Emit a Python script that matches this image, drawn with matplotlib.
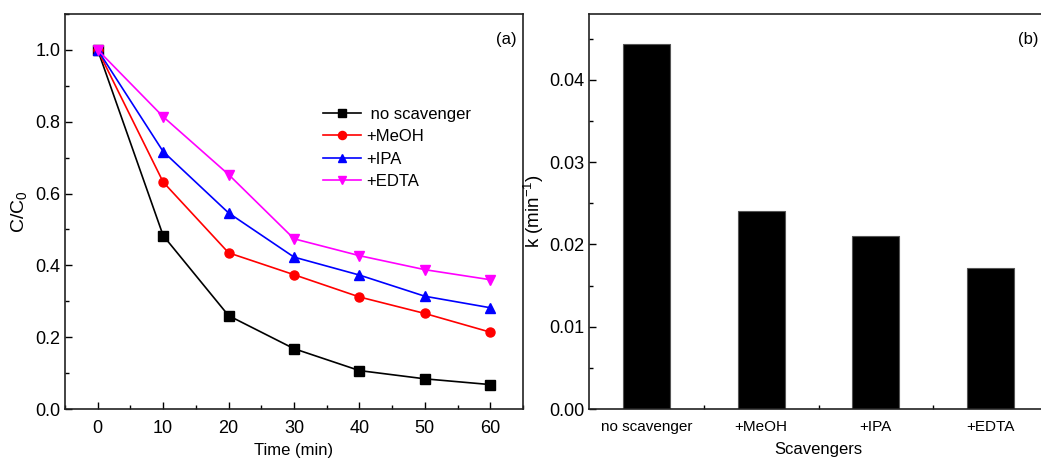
import matplotlib.pyplot as plt
from matplotlib.ticker import MultipleLocator, FixedLocator

plt.rcParams["font.family"] = ["Liberation Sans", "DejaVu Sans"]
plt.rcParams["mathtext.fontset"] = "custom"
plt.rcParams["mathtext.rm"] = "Liberation Sans"
plt.rcParams["mathtext.it"] = "Liberation Sans"

# (a) C/C0 over time for each scavenger
time_min = [0, 10, 20, 30, 40, 50, 60]
no_scavenger = [1.0, 0.483, 0.260, 0.168, 0.107, 0.084, 0.068]
meoh = [1.0, 0.632, 0.435, 0.374, 0.312, 0.266, 0.214]
ipa = [1.0, 0.717, 0.546, 0.423, 0.373, 0.314, 0.282]
edta = [1.0, 0.814, 0.653, 0.474, 0.427, 0.388, 0.360]

# (b) rate constants
scavengers = ["no scavenger", "+MeOH", "+IPA", "+EDTA"]
k_values = [0.0444, 0.0240, 0.0210, 0.0171]

fig = plt.figure(figsize=(10.41, 4.61), dpi=100)
ax1 = fig.add_axes([65 / 1041, 1 - 409 / 461, 458 / 1041, 395 / 461])
ax2 = fig.add_axes([589 / 1041, 1 - 409 / 461, 459 / 1041, 395 / 461])

series = [
    (no_scavenger, "black", "s", " no scavenger"),
    (meoh, "red", "o", "+MeOH"),
    (ipa, "blue", "^", "+IPA"),
    (edta, "magenta", "v", "+EDTA"),
]
for ys, col, mk, lab in series:
    ax1.plot(time_min, ys, color=col, marker=mk, markersize=6.5, linewidth=1.2, label=lab)

ax1.set_xlim(-5, 65)
ax1.set_ylim(0, 1.1)
ax1.xaxis.set_major_locator(MultipleLocator(10))
ax1.xaxis.set_minor_locator(MultipleLocator(5))
ax1.yaxis.set_major_locator(MultipleLocator(0.2))
ax1.yaxis.set_minor_locator(MultipleLocator(0.1))
ax1.set_xlabel("Time (min)", fontsize=12, labelpad=4)
ax1.set_ylabel("C/C$_0$", fontsize=14, labelpad=4)
ax1.text(0.985, 0.955, "(a)", transform=ax1.transAxes, ha="right", va="top", fontsize=12)
ax1.legend(loc="upper left", bbox_to_anchor=(0.563, 0.765), frameon=False, fontsize=12,
           handlelength=2.3, handletextpad=0.3, labelspacing=0.45, borderaxespad=0,
           borderpad=0, markerscale=0.9)

pos = [1, 2, 3, 4]
ax2.bar(pos, k_values, width=0.41, color="black", edgecolor="#555555", linewidth=0.8)
ax2.set_xlim(0.5, 4.5)
ax2.set_ylim(0, 0.048)
ax2.set_xticks(pos)
ax2.set_xticklabels(scavengers)
ax2.xaxis.set_minor_locator(FixedLocator([1.5, 2.5, 3.5]))
ax2.yaxis.set_major_locator(MultipleLocator(0.01))
ax2.yaxis.set_minor_locator(MultipleLocator(0.005))
ax2.yaxis.set_major_formatter(plt.FormatStrFormatter("%.2f"))
ax2.set_xlabel("Scavengers", fontsize=12, labelpad=6)
ax2.set_ylabel("k (min$^{-1}$)", fontsize=13.5, labelpad=2)
# panel tag pushed up against the right edge of the figure
ax2.text(0.979, 0.955, "(b)", transform=ax2.transAxes, ha="right", va="top", fontsize=12)

for ax in (ax1, ax2):
    for sp in ax.spines.values():
        sp.set_linewidth(1.2)
        sp.set_color("#222222")
    ax.tick_params(which="both", direction="in", labelsize=13, width=1.0)
    ax.tick_params(which="major", length=5)
    ax.tick_params(which="minor", length=3)
    ax.tick_params(axis="x", which="major", pad=8)

ax2.tick_params(axis="x", which="major", length=0, pad=8, labelsize=11)

fig.savefig("out.png", dpi=100)
